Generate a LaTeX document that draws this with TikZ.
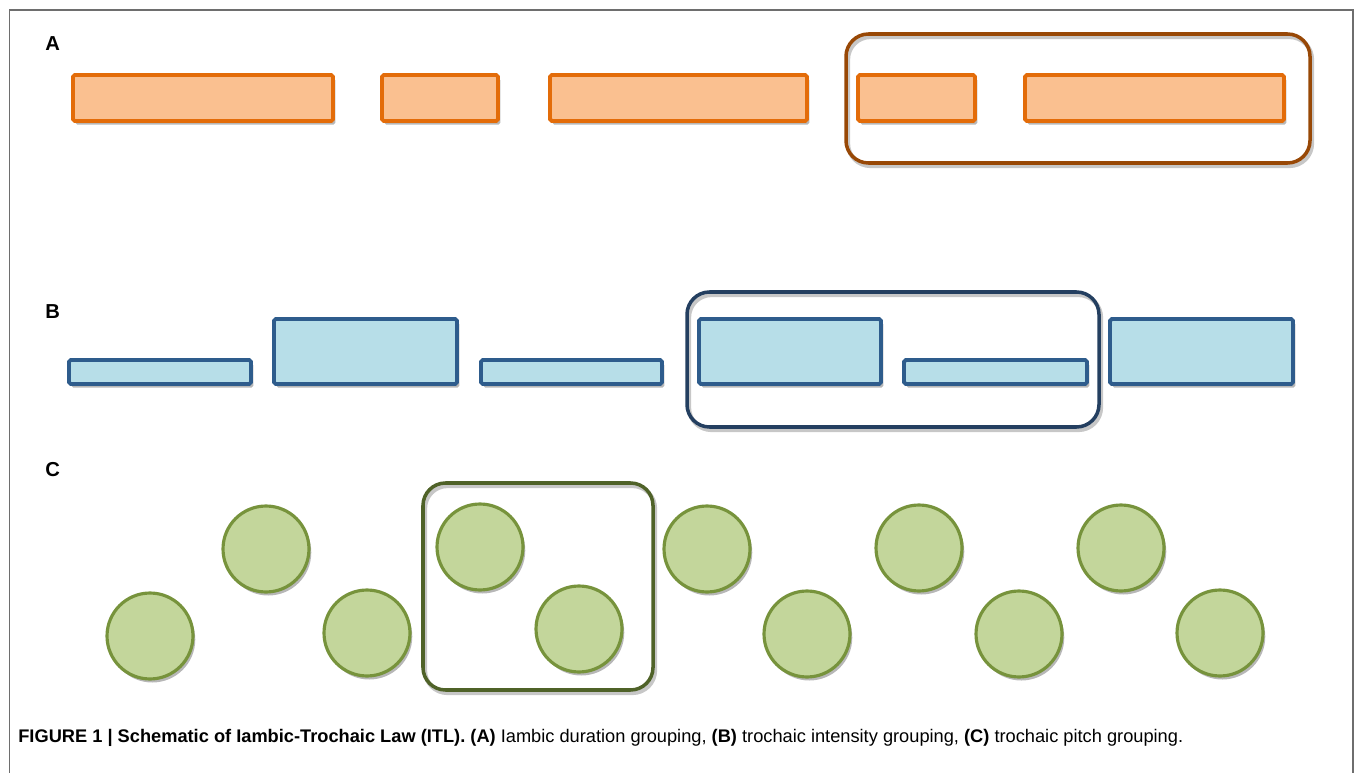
\documentclass[tikz,border=0pt]{standalone}
\usepackage{fontspec}
\setmainfont{Liberation Sans}
\usepackage{graphicx}
\usetikzlibrary{shadows}
\definecolor{orS}{RGB}{227,108,9}
\definecolor{orF}{RGB}{250,192,144}
\definecolor{brownG}{RGB}{152,72,6}
\definecolor{blS}{RGB}{46,92,140}
\definecolor{blF}{RGB}{183,222,232}
\definecolor{navyG}{RGB}{36,63,96}
\definecolor{grF}{RGB}{195,214,155}
\definecolor{grS}{RGB}{119,147,60}
\definecolor{grG}{RGB}{79,98,40}
\definecolor{frameC}{RGB}{110,110,110}
\tikzset{
  sh/.style={drop shadow={shadow xshift=1.3pt,shadow yshift=-2pt,opacity=0.4,fill=black!70}},
  obar/.style={draw=orS,fill=orF,line width=2.2pt,rounded corners=1pt,sh},
  bbar/.style={draw=blS,fill=blF,line width=2.2pt,rounded corners=1pt,sh},
  gdot/.style={draw=grS,fill=grF,line width=1.8pt,sh},
  grp/.style={line width=2pt,rounded corners=0.45cm},
  grpsh/.style={line width=2.4pt,rounded corners=0.45cm,draw=black!22},
  lab/.style={font=\bfseries\fontsize{11.5}{13}\selectfont,anchor=base west,inner sep=0pt},
}
\begin{document}
\begin{tikzpicture}[x=0.02cm,y=-0.02cm]
\useasboundingbox (0,0) rectangle (1355,773);
% frame
\draw[frameC,line width=0.9pt] (9.5,780) -- (9.5,10) -- (1353,10) -- (1353,780);
% labels
\node[lab] (labA) at (45,51) {A};
\node[lab] (labB) at (45,318) {B};
\node[lab] (labC) at (45,476) {C};
% Row A
\draw[obar] (73,75) rectangle (333,121);
\draw[obar] (382,75) rectangle (498,121);
\draw[obar] (550,75) rectangle (807,121);
\draw[obar] (858,75) rectangle (975,121);
\draw[obar] (1025,75) rectangle (1284,121);
\draw[grpsh] (848,37) rectangle (1312,166);
\draw[grp,draw=brownG] (846,34) rectangle (1310,163);
% Row B
\draw[bbar] (69,360) rectangle (251,384);
\draw[bbar] (274,319) rectangle (457,384);
\draw[bbar] (481,360) rectangle (662,384);
\draw[bbar] (699,319) rectangle (881,384);
\draw[bbar] (904,360) rectangle (1087,384);
\draw[bbar] (1110,319) rectangle (1293,384);
\draw[grpsh] (689,295) rectangle (1101,430);
\draw[grp,draw=navyG] (687,292) rectangle (1099,427);
% Row C
\foreach \cx/\cy in {150/636,266/549,367/633,480/547,579/629,707/549,807/634,919/548,1019/634,1121/548,1220/633}{
  \draw[gdot] (\cx,\cy) circle[radius=0.86cm];
}
\draw[grpsh] (425,486) rectangle (655,693);
\draw[grp,draw=grG] (423,483) rectangle (653,690);
% caption
\node[anchor=base west,inner sep=0pt] (cap) at (18,742) {\resizebox{23.3cm}{!}{\textbf{FIGURE 1 | Schematic of Iambic-Trochaic Law (ITL). (A)} Iambic duration grouping, \textbf{(B)} trochaic intensity grouping, \textbf{(C)} trochaic pitch grouping.}};
\end{tikzpicture}
\end{document}
